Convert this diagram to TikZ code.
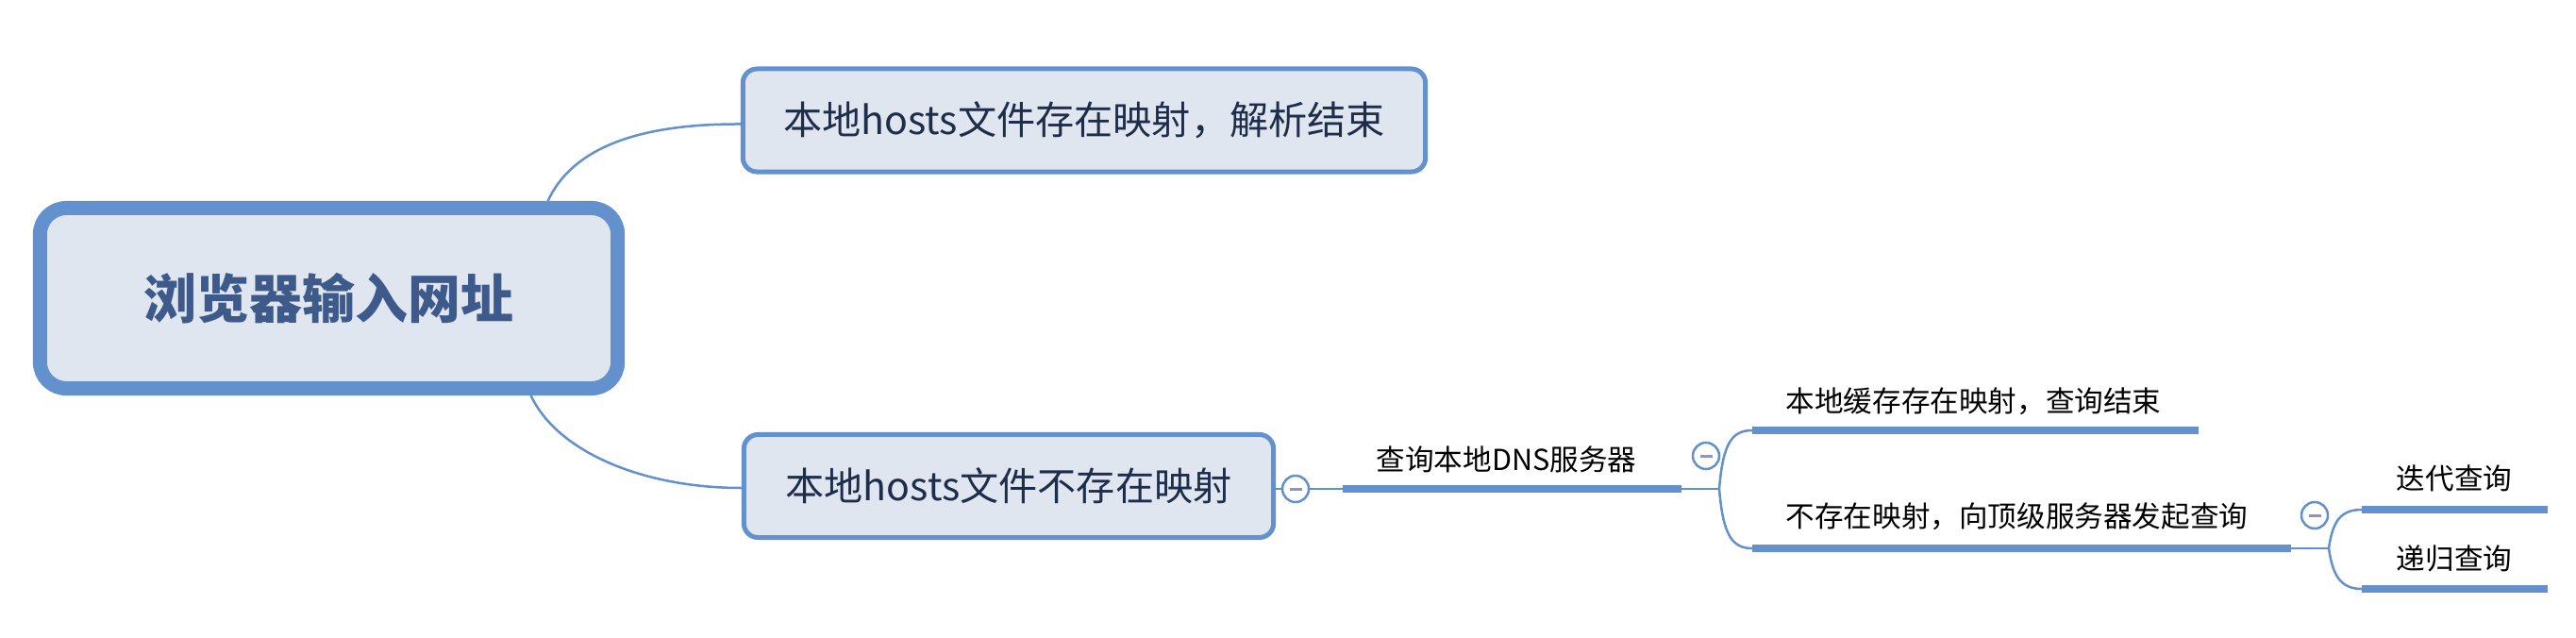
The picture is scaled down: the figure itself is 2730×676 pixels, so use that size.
\documentclass[tikz,border=0pt]{standalone}
\usepackage{fontspec}
\setmainfont{Noto Sans CJK SC}
\usetikzlibrary{positioning}

\definecolor{mapblue}{RGB}{99,145,205}
\definecolor{mapfill}{RGB}{223,230,240}
\definecolor{roottext}{RGB}{62,90,138}
\definecolor{subtext}{RGB}{30,45,74}
\definecolor{minusgray}{RGB}{140,150,190}

\begin{document}
\begin{tikzpicture}[x=0.01cm, y=0.01cm,
  rootbox/.style={draw=mapblue, fill=mapfill, line width=0.15cm, rounded corners=0.28cm,
    minimum width=6.12cm, minimum height=1.91cm, inner sep=0pt,
    text=roottext, font=\fontsize{15.9}{18}\selectfont\bfseries},
  subbox/.style={draw=mapblue, fill=mapfill, line width=0.05cm, rounded corners=0.15cm,
    minimum height=1.09cm, inner sep=0pt, text=subtext, font=\fontsize{11.7}{13}\selectfont},
  leaftext/.style={inner sep=0pt, anchor=west, text=black, font=\fontsize{8.7}{10}\selectfont},
  fold/.style={circle, draw=mapblue, fill=white, line width=0.025cm, minimum size=0.28cm, inner sep=0pt},
  foldmark/.style={draw=minusgray, line width=0.03cm},
  branch/.style={draw=mapblue, line width=0.025cm},
  bar/.style={draw=mapblue, line width=0.08cm}
]

\useasboundingbox (0,0) rectangle (2730,-676);

% main topics
\node[rootbox] (root) at (348.5,-316) {浏览器输入网址};
\node[subbox, minimum width=7.23cm] (exists) at (1149,-127.5) {本地hosts文件存在映射，解析结束};
\node[subbox, minimum width=5.61cm] (missing) at (1069,-515) {本地hosts文件不存在映射};

\draw[branch] ([xshift=2.32cm]root.north) .. controls (605,-160) and (670,-131) .. ([yshift=-0.04cm]exists.west);
\draw[branch] ([xshift=2.14cm]root.south) .. controls (590,-478) and (680,-517) .. ([yshift=-0.02cm]missing.west);

% local dns
\node[fold] (fold1) at (1373,-518) {};
\coordinate (dnsL) at (1423,-518);
\coordinate (dnsR) at (1782,-518);
\draw[branch] (missing.east |- fold1.west) -- (fold1.west);
\draw[branch] (fold1.east) -- (dnsL);
\draw[bar] (dnsL) -- (dnsR);
\node[leaftext] (dns) at (1458,-487) {查询本地DNS服务器};

\coordinate (fork1) at (1822,-518);
\coordinate (cacheL) at (1857,-456);
\coordinate (cacheR) at (2330,-456);
\coordinate (upL) at (1857,-581);
\coordinate (upR) at (2428,-581);
\draw[branch] (dnsR) -- (fork1);
\draw[branch] (fork1) .. controls (1826,-470) and (1835,-456) .. (cacheL);
\draw[branch] (fork1) .. controls (1826,-566) and (1835,-581) .. (upL);
\draw[bar] (cacheL) -- (cacheR);
\draw[bar] (upL) -- (upR);
\node[fold] (fold2) at (1808,-483) {};
\node[leaftext] (cache) at (1892,-425) {本地缓存存在映射，查询结束};
\node[leaftext] (upstream) at (1892,-547) {不存在映射，向顶级服务器发起查询};

% top level servers
\coordinate (fork2) at (2468,-581);
\coordinate (iterL) at (2503,-540);
\coordinate (iterR) at (2700,-540);
\coordinate (recurL) at (2503,-624);
\coordinate (recurR) at (2700,-624);
\draw[branch] (upR) -- (fork2);
\draw[branch] (fork2) .. controls (2472,-553) and (2480,-540) .. (iterL);
\draw[branch] (fork2) .. controls (2472,-609) and (2480,-624) .. (recurL);
\draw[bar] (iterL) -- (iterR);
\draw[bar] (recurL) -- (recurR);
\node[fold] (fold3) at (2453,-546) {};
\node[leaftext, anchor=center] (iter) at (2601,-507) {迭代查询};
\node[leaftext, anchor=center] (recur) at (2601,-592) {递归查询};

\foreach \f in {fold1,fold2,fold3}
  \draw[foldmark] ([xshift=-0.065cm]\f.center) -- ([xshift=0.065cm]\f.center);

\end{tikzpicture}
\end{document}
